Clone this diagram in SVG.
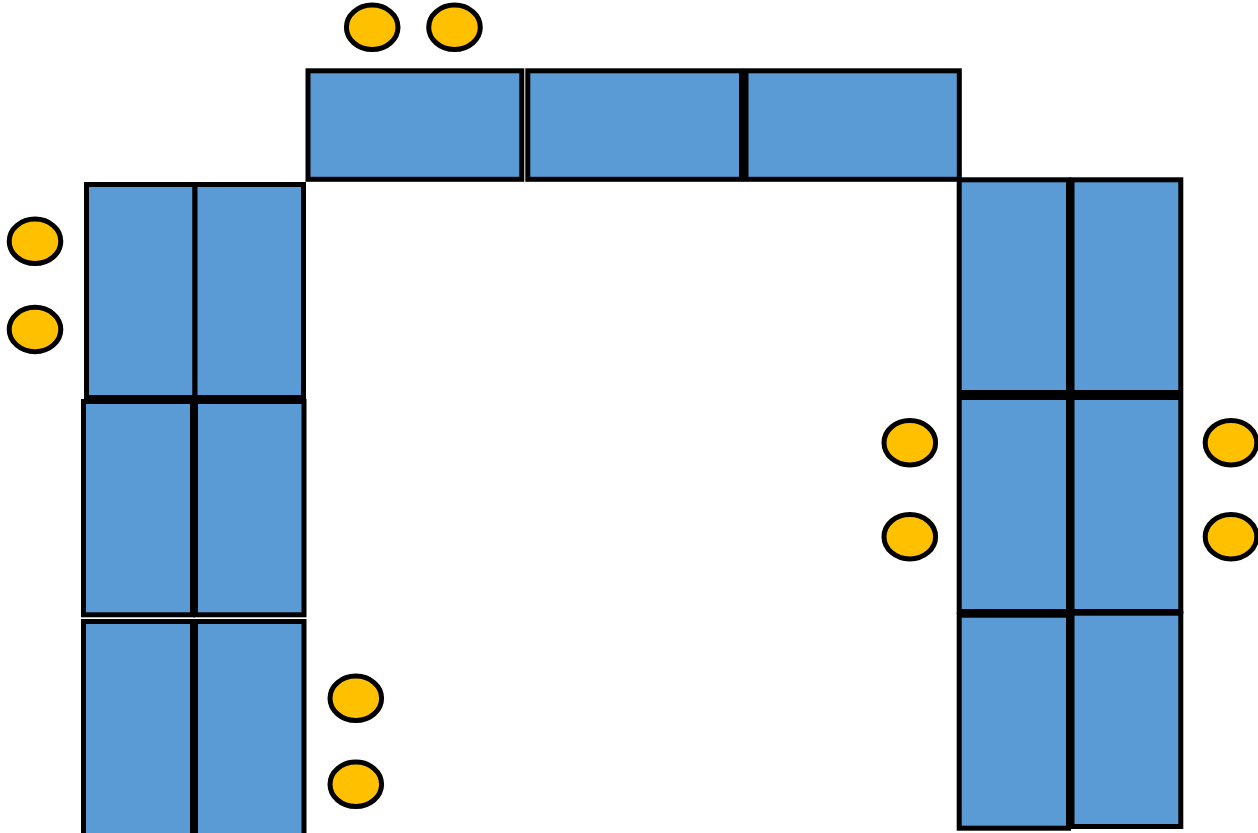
<svg xmlns="http://www.w3.org/2000/svg" width="1258" height="833" viewBox="0 0 1258 833">
<style>
.t{fill:#5B9BD5;stroke:#000;stroke-width:5}
.c{fill:#FFC000;stroke:#000;stroke-width:5}
</style>
<rect width="1258" height="833" fill="#fff"/>
<g id="left-col">
<rect id="tl1a" class="t" x="86.5" y="184.5" width="108.5" height="213"/>
<rect id="tl1b" class="t" x="195" y="184.5" width="108.5" height="213"/>
<rect id="tl2a" class="t" x="83.5" y="401.5" width="109" height="213.3"/>
<rect id="tl2b" class="t" x="195.5" y="401.5" width="108.5" height="213.3"/>
<rect id="tl3a" class="t" x="83.5" y="621.5" width="109" height="220"/>
<rect id="tl3b" class="t" x="195.5" y="621.5" width="108.5" height="220"/>
</g>
<g id="top-row">
<rect id="tt1" class="t" x="308" y="70.8" width="213.8" height="108.5"/>
<rect id="tt2" class="t" x="527.8" y="70.8" width="213.7" height="108.5"/>
<rect id="tt3" class="t" x="746" y="70.8" width="213.3" height="108.5"/>
</g>
<g id="right-col">
<rect id="tr1a" class="t" x="959.2" y="179.8" width="109.3" height="212.7"/>
<rect id="tr1b" class="t" x="1072" y="179.8" width="108.8" height="212.7"/>
<rect id="tr2a" class="t" x="959.2" y="397.5" width="109.3" height="214"/>
<rect id="tr2b" class="t" x="1072" y="397.5" width="108.8" height="214"/>
<rect id="tr3a" class="t" x="959.2" y="615.2" width="109.3" height="213"/>
<rect id="tr3b" class="t" x="1072" y="613.2" width="108.8" height="213.3"/>
</g>
<g id="chairs">
<ellipse id="ch1" class="c" cx="372.2" cy="27.3" rx="25.8" ry="22.2"/>
<ellipse id="ch2" class="c" cx="454.5" cy="27.3" rx="25.8" ry="22.2"/>
<ellipse id="ch3" class="c" cx="35" cy="241.3" rx="25.8" ry="22.2"/>
<ellipse id="ch4" class="c" cx="35" cy="329.5" rx="25.8" ry="22.2"/>
<ellipse id="ch5" class="c" cx="355.8" cy="698.3" rx="25.8" ry="22.2"/>
<ellipse id="ch6" class="c" cx="355.8" cy="784.3" rx="25.8" ry="22.2"/>
<ellipse id="ch7" class="c" cx="909.8" cy="442.7" rx="25.8" ry="22.2"/>
<ellipse id="ch8" class="c" cx="909.8" cy="536.7" rx="25.8" ry="22.2"/>
<ellipse id="ch9" class="c" cx="1231" cy="442.7" rx="25.8" ry="22.2"/>
<ellipse id="ch10" class="c" cx="1231" cy="536.7" rx="25.8" ry="22.2"/>
</g>
</svg>
